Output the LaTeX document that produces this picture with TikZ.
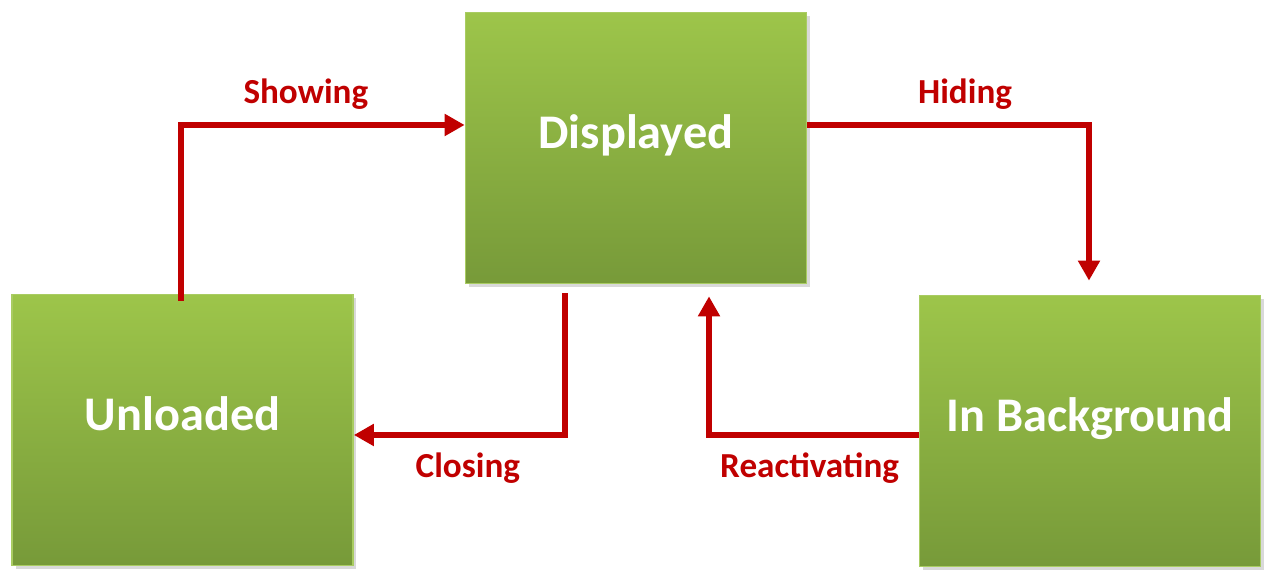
\documentclass[tikz,border=0pt]{standalone}
\usepackage{fontspec}
\setmainfont{Carlito}
\usetikzlibrary{arrows.meta, shadows, calc}

\definecolor{boxtop}{HTML}{9DC54A}
\definecolor{boxbot}{HTML}{779A39}
\definecolor{boxline}{HTML}{A9CC62}
\definecolor{arrred}{HTML}{C00000}

\tikzset{
	state/.style={rectangle, draw=boxline, line width=1pt, top color=boxtop, bottom color=boxbot,
		minimum width=6.82cm, minimum height=5.42cm, text=white, font=\fontsize{27.5}{32}\selectfont\bfseries,
		text height=0.6cm, text depth=0.56cm,
		drop shadow={opacity=0.3, shadow xshift=2pt, shadow yshift=-2pt}},
	trans/.style={draw=arrred, line width=0.13cm, -{Triangle[length=0.4cm, width=0.42cm]}},
	translabel/.style={text=arrred, font=\fontsize{20}{24}\selectfont\bfseries}
}

\begin{document}
\begin{tikzpicture}[x=0.02cm, y=0.02cm]
		\useasboundingbox (0,0) rectangle (1272,580);
		\node[state] (disp) at (636,432) {Displayed};
		\node[state] (unl) at (182.5,150) {Unloaded};
		\node[state] (bg) at (1090,149) {In Background};

		\coordinate (showstart) at ($(unl.north)+(-1.5,-7)$);
		\coordinate (hidestart) at ($(disp.east)+(0,23)$);
		\coordinate (closestart) at ($(disp.south)+(-71,-9)$);
		\coordinate (reacend) at ($(disp.south)+(73,-12)$);

		\draw[trans] (showstart) |- ($(disp.west)+(0,23)$) node[pos=0.72, above=3.5pt, translabel] {Showing};
		\draw[trans] (hidestart) -| ($(bg.north)+(-1,14)$) node[pos=0.28, above=3.5pt, translabel] {Hiding};
		\draw[trans] (closestart) |- ($(unl.east)+(0,-5)$) node[pos=0.73, below=5pt, translabel] {Closing};
		\draw[trans] ($(bg.west)+(0,-4)$) -| (reacend) node[pos=0.26, below=5pt, translabel] {Reactivating};
	\end{tikzpicture}
\end{document}
